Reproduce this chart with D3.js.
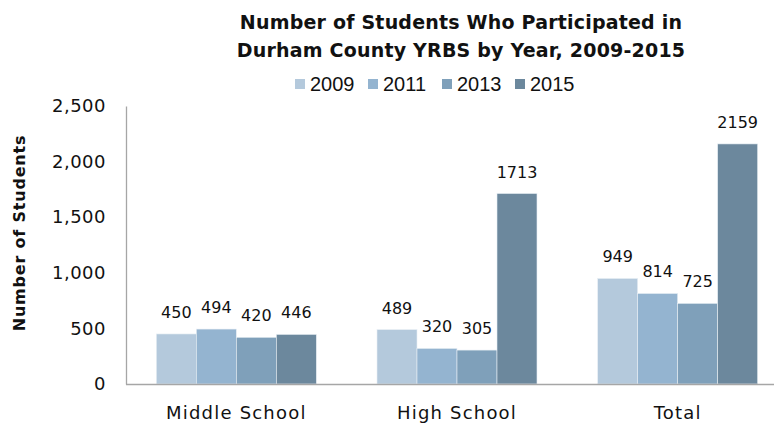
<!DOCTYPE html>
<html>
<head>
<meta charset="utf-8">
<script src="https://cdn.jsdelivr.net/npm/d3@7/dist/d3.min.js"></script>
<style>
  body { margin: 0; background: #fff; }
  text { font-family: "DejaVu Sans", sans-serif; fill: #111; }
  .title { font-family: "DejaVu Sans", sans-serif; font-weight: bold; font-size: 19px; letter-spacing: 0.2px; }
  .legend text { font-family: "Liberation Sans", sans-serif; font-size: 20px; }
</style>
</head>
<body>
<svg id="chart" width="774" height="426"></svg>
<script>
// chart values
var categories = ["Middle School", "High School", "Total"]
var years = ["2009", "2011", "2013", "2015"]
var values2009 = [450, 489, 949]
var values2011 = [494, 320, 814]
var values2013 = [420, 305, 725]
var values2015 = [446, 1713, 2159]
var yTicks = [0, 500, 1000, 1500, 2000, 2500]
var colors = ["#b4c9dc", "#94b4d0", "#7fa0ba", "#6c889d"]

var series = [values2009, values2011, values2013, values2015]

var svg = d3.select("#chart")
var plotLeft = 126, plotRight = 788, plotTop = 106, plotBottom = 384

var x = d3.scaleBand().domain(categories).range([plotLeft, plotRight]).paddingInner(0.275).paddingOuter(0.1375)
var x1 = d3.scaleBand().domain(years).range([0, x.bandwidth()])
var y = d3.scaleLinear().domain([0, 2500]).range([plotBottom, plotTop])

// title
svg.append("text").attr("class", "title").attr("x", 461).attr("y", 29)
  .attr("text-anchor", "middle").text("Number of Students Who Participated in")
svg.append("text").attr("class", "title").attr("x", 461).attr("y", 57)
  .attr("text-anchor", "middle").text("Durham County YRBS by Year, 2009-2015")

// legend
var legendX = [295, 368, 442, 515]
var legend = svg.append("g").attr("class", "legend")
years.forEach(function(yr, i) {
  legend.append("rect").attr("x", legendX[i]).attr("y", 79).attr("width", 10).attr("height", 10).attr("fill", colors[i])
  legend.append("text").attr("x", legendX[i] + 15).attr("y", 91).text(yr)
})

// y axis
var yAxis = d3.axisLeft(y).tickValues(yTicks).tickSize(0).tickPadding(20).tickFormat(d3.format(","))
var gy = svg.append("g").attr("transform", "translate(" + plotLeft + ",0)").call(yAxis)
gy.select(".domain").attr("stroke", "#a6a6a6").attr("stroke-width", 1.3)
gy.selectAll("text").style("font-size", "18px").style("letter-spacing", "0.5px")
  .style("font-family", "DejaVu Sans, sans-serif").attr("fill", "#111")

svg.append("text")
  .attr("transform", "translate(25,233) rotate(-90)")
  .attr("text-anchor", "middle")
  .style("font-weight", "bold").style("font-size", "16px").style("letter-spacing", "0.8px")
  .text("Number of Students")

// bars
categories.forEach(function(cat, ci) {
  var g = svg.append("g").attr("transform", "translate(" + x(cat) + ",0)")
  years.forEach(function(yr, si) {
    var v = series[si][ci]
    g.append("rect")
      .attr("x", x1(yr)).attr("y", y(v))
      .attr("width", x1.bandwidth()).attr("height", y(0) - y(v))
      .attr("fill", colors[si])
      .attr("stroke", "#e8eef4").attr("stroke-width", 0.6)
    g.append("text")
      .attr("x", x1(yr) + x1.bandwidth() / 2).attr("y", y(v) - 16)
      .attr("text-anchor", "middle").style("font-size", "16px")
      .text(v)
  })
})

// x axis
svg.append("line").attr("x1", plotLeft).attr("x2", 774).attr("y1", plotBottom + 0.5).attr("y2", plotBottom + 0.5)
  .attr("stroke", "#a6a6a6").attr("stroke-width", 1.3)
categories.forEach(function(cat) {
  svg.append("text").attr("x", x(cat) + x.bandwidth() / 2).attr("y", 419)
    .attr("text-anchor", "middle").style("font-size", "18px").style("letter-spacing", "1.2px").text(cat)
})
</script>
</body>
</html>
